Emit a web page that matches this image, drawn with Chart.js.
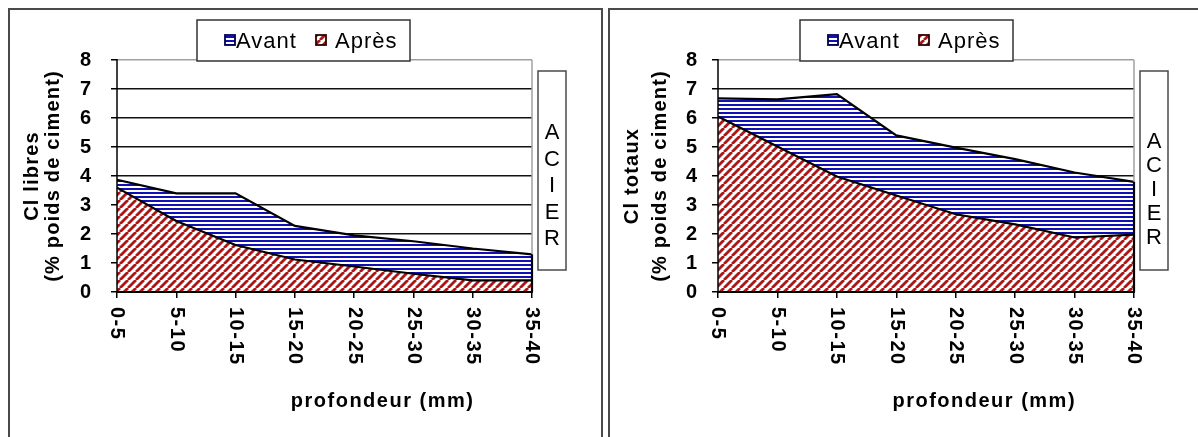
<!DOCTYPE html>
<html>
<head>
<meta charset="utf-8">
<script src="https://cdn.jsdelivr.net/npm/chart.js@4.4.0/dist/chart.umd.min.js"></script>
<style>
  html, body { margin: 0; padding: 0; background: #fff; overflow: hidden; }
  #page { position: relative; width: 1198px; height: 437px; }
  .panel { position: absolute; border: 2px solid #4a4a4a; box-sizing: border-box; }
  canvas { position: absolute; top: 0; }
</style>
</head>
<body>
<div id="page">
  <div class="panel" style="left:8px; top:8px; width:595px; height:470px"></div>
  <div class="panel" style="left:608px; top:8px; width:640px; height:470px"></div>
  <canvas id="libres" width="604" height="437" style="left:0"></canvas>
  <canvas id="totaux" width="594" height="437" style="left:604px"></canvas>
</div>
<script>
// profondeur (mm) classes
const profondeurs = ["0-5", "5-10", "10-15", "15-20", "20-25", "25-30", "30-35", "35-40"];

// Cl libres (% poids de ciment)
const libresAvant = [3.87, 3.4, 3.4, 2.28, 1.95, 1.75, 1.5, 1.3];
const libresApres = [3.6, 2.45, 1.62, 1.12, 0.88, 0.63, 0.4, 0.4];

// Cl totaux (% poids de ciment)
const totauxAvant = [6.68, 6.64, 6.82, 5.4, 4.98, 4.58, 4.12, 3.8];
const totauxApres = [6.05, 5.02, 3.98, 3.33, 2.68, 2.33, 1.88, 1.98];

const yMin = 0;
const yMax = 8;
const yStep = 1;
const seriesNames = ["Avant", "Après"];
const acier = ["A", "C", "I", "E", "R"];
const xTitle = "profondeur (mm)";

const FONT = "Arial, 'Liberation Sans', sans-serif";
const BLUE = "#1010b4";
const RED = "#a81818";

function stripePattern(ctx) {
  const c = document.createElement("canvas");
  c.width = 4; c.height = 4;
  const g = c.getContext("2d");
  g.fillStyle = "#fff"; g.fillRect(0, 0, 4, 4);
  g.fillStyle = BLUE; g.fillRect(0, 0, 4, 2);
  return ctx.createPattern(c, "repeat");
}

function hatchPattern(ctx) {
  const n = 8;
  const c = document.createElement("canvas");
  c.width = n; c.height = n;
  const g = c.getContext("2d");
  g.fillStyle = "#fff"; g.fillRect(0, 0, n, n);
  g.strokeStyle = RED; g.lineWidth = 2.8;
  for (const o of [-n, 0, n]) {
    g.beginPath(); g.moveTo(o, n); g.lineTo(o + n, 0); g.stroke();
  }
  return ctx.createPattern(c, "repeat");
}

function makeChart(id, avant, apres, opt) {
  const canvas = document.getElementById(id);
  const c2d = canvas.getContext("2d");
  const fills = [stripePattern(c2d), hatchPattern(c2d)];

  const frame = {
    id: "frame_" + id,
    afterDatasetsDraw(chart) {
      const { ctx, chartArea: a, scales: { y } } = chart;
      const yLast = y.getPixelForValue(avant[avant.length - 1]);
      const seg = (x1, y1, x2, y2) => { ctx.beginPath(); ctx.moveTo(x1, y1); ctx.lineTo(x2, y2); ctx.stroke(); };
      ctx.save();
      ctx.strokeStyle = "#a0a0a0"; ctx.lineWidth = 1.5;
      seg(a.right, a.top, a.right, yLast);
      ctx.strokeStyle = "#000"; ctx.lineWidth = 2.2;
      seg(a.right, yLast, a.right, a.bottom);
      ctx.lineWidth = 1.5;
      seg(a.left, a.top - 1, a.left, a.bottom);
      ctx.lineWidth = 2.2;
      seg(a.left - 1, a.bottom, a.right + 1, a.bottom);
      ctx.restore();
    },
    afterDraw(chart) {
      const { ctx, chartArea: a, scales: { x } } = chart;
      ctx.save();

      // x tick labels, rotated clockwise
      ctx.fillStyle = "#000";
      ctx.font = "bold 20px " + FONT;
      ctx.letterSpacing = "1.5px";
      ctx.textAlign = "left";
      ctx.textBaseline = "middle";
      profondeurs.forEach((lab, i) => {
        ctx.save();
        ctx.translate(x.getPixelForValue(i), a.bottom + 15);
        ctx.rotate(Math.PI / 2);
        ctx.fillText(lab, 0, 0);
        ctx.restore();
      });

      // x title
      ctx.textAlign = "center";
      ctx.fillText(xTitle, a.left + (a.right - a.left) * 0.64, 401);

      // y title (two lines)
      ctx.font = "bold 20px " + FONT;
      ctx.letterSpacing = "1.2px";
      opt.yTitle.forEach((t, i) => {
        ctx.save();
        ctx.translate(opt.yTitleX[i], (a.top + a.bottom) / 2);
        ctx.rotate(-Math.PI / 2);
        ctx.fillText(t, 0, 0);
        ctx.restore();
      });

      // ACIER box
      ctx.letterSpacing = "0px";
      ctx.strokeStyle = "#4a4a4a"; ctx.lineWidth = 1.5;
      ctx.fillStyle = "#fff";
      ctx.fillRect(opt.acierX, 71, 28, 199);
      ctx.strokeRect(opt.acierX, 71, 28, 199);
      ctx.fillStyle = "#000";
      ctx.font = "22px " + FONT;
      acier.forEach((ch, i) => ctx.fillText(ch, opt.acierX + 14, opt.acierY + i * opt.acierStep));

      // legend
      const lx = opt.legendX;
      ctx.fillStyle = "#fff";
      ctx.fillRect(lx, 20, 213, 41);
      ctx.strokeStyle = "#333"; ctx.lineWidth = 1.5;
      ctx.strokeRect(lx, 20, 213, 41);
      const sw = [lx + 28, lx + 119];
      const tx = [lx + 39, lx + 138];
      seriesNames.forEach((name, i) => {
        ctx.fillStyle = fills[i];
        ctx.fillRect(sw[i], 35, 10, 10);
        ctx.strokeStyle = i === 0 ? "#000050" : "#300000";
        ctx.lineWidth = 1.8;
        ctx.strokeRect(sw[i], 35, 10, 10);
        ctx.fillStyle = "#000";
        ctx.font = "22px " + FONT;
        ctx.letterSpacing = "1px";
        ctx.textAlign = "left";
        ctx.textBaseline = "alphabetic";
        ctx.fillText(name, tx[i], 48);
      });
      ctx.restore();
    }
  };

  return new Chart(canvas, {
    type: "line",
    data: {
      labels: profondeurs,
      datasets: [
        { label: seriesNames[0], data: avant, fill: "+1", backgroundColor: fills[0],
          borderColor: "#000", borderWidth: 2.2, pointRadius: 0, tension: 0 },
        { label: seriesNames[1], data: apres, fill: "origin", backgroundColor: fills[1],
          borderColor: "#000", borderWidth: 2.2, pointRadius: 0, tension: 0 }
      ]
    },
    options: {
      responsive: false,
      animation: false,
      devicePixelRatio: 1,
      layout: { padding: { left: 0, top: 60, right: opt.padRight, bottom: 45 } },
      plugins: {
        legend: { display: false },
        tooltip: { enabled: false },
        filler: { drawTime: "beforeDatasetsDraw" }
      },
      scales: {
        x: {
          grid: { display: true, drawOnChartArea: false, drawTicks: true, tickLength: 6, tickColor: "#000", lineWidth: 1.5 },
          border: { display: false },
          ticks: { display: false },
          afterFit(s) { s.height = 100; }
        },
        y: {
          min: yMin, max: yMax,
          ticks: { stepSize: yStep, color: "#000", padding: opt.tickPad,
                   font: { family: FONT, size: 20, weight: "bold" } },
          grid: { color: (c) => (c.tick.value === yMax ? "#a0a0a0" : "#111"),
                  lineWidth: 1.5, tickLength: 6, tickColor: "#000" },
          border: { display: false },
          afterFit(s) { s.width = opt.axisWidth; }
        }
      }
    },
    plugins: [frame]
  });
}

makeChart("libres", libresAvant, libresApres, {
  axisWidth: 117, padRight: 72, tickPad: 20,
  yTitle: ["Cl libres", "(% poids de ciment)"], yTitleX: [32, 53],
  acierX: 538, acierY: 133, acierStep: 26.5,
  legendX: 197
});

makeChart("totaux", totauxAvant, totauxApres, {
  axisWidth: 114, padRight: 64, tickPad: 15,
  yTitle: ["Cl totaux", "(% poids de ciment)"], yTitleX: [28, 56],
  acierX: 536, acierY: 142, acierStep: 24,
  legendX: 196
});
</script>
</body>
</html>
